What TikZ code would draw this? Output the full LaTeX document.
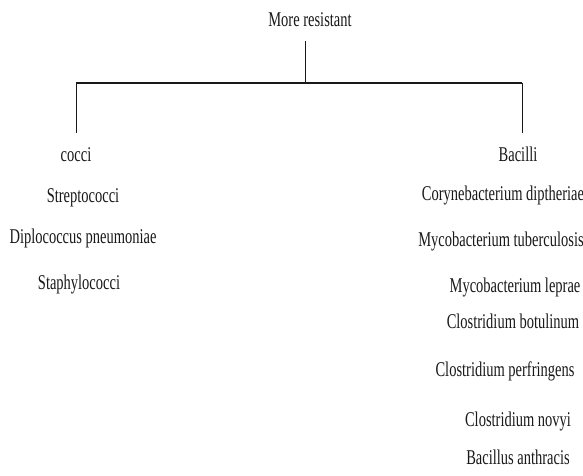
\documentclass[tikz,border=0pt]{standalone}
\usepackage{fontspec}
\setmainfont{Liberation Serif}[FakeStretch=0.69]
\tikzset{
  lbl/.style={anchor=base, inner sep=0pt, font=\fontsize{21}{25}\selectfont, text=black!90},
  conn/.style={draw=black!90, line width=0.8pt},
  bar/.style={draw=black!90, line width=1.4pt}
}
\begin{document}
\begin{tikzpicture}[x=1pt,y=-1pt]
\useasboundingbox[fill=white] (0,0) rectangle (583,476);
% title
\node[lbl] (title) at (310,27) {More resistant};
% tree lines
\coordinate (top) at (305,41);
\coordinate (mid) at (305,83);
\coordinate (hl) at (76,83);
\coordinate (hr) at (522,83);
\coordinate (ll) at (76,133);
\coordinate (rl) at (522,133);
\draw[conn] (top) -- (mid);
\draw[bar] (hl) -- (hr);
\draw[conn] (hl) -- (ll);
\draw[conn] (hr) -- (rl);
% left column
\node[lbl] (cocci) at (76,161) {cocci};
\node[lbl] (strep) at (83,202) {Streptococci};
\node[lbl] (diplo) at (83,243) {Diplococcus pneumoniae};
\node[lbl] (staph) at (79,289) {Staphylococci};
% right column
\node[lbl] (bacilli) at (518,161) {Bacilli};
\node[lbl] (coryne) at (503,200) {Corynebacterium diptheriae};
\node[lbl] (mtb) at (501,246) {Mycobacterium tuberculosis};
\node[lbl] (mlep) at (515,292) {Mycobacterium leprae};
\node[lbl] (cbot) at (513,328) {Clostridium botulinum};
\node[lbl] (cperf) at (505,376) {Clostridium perfringens};
\node[lbl] (cnov) at (518,426) {Clostridium novyi};
\node[lbl] (banth) at (518,464) {Bacillus anthracis};
\end{tikzpicture}
\end{document}
